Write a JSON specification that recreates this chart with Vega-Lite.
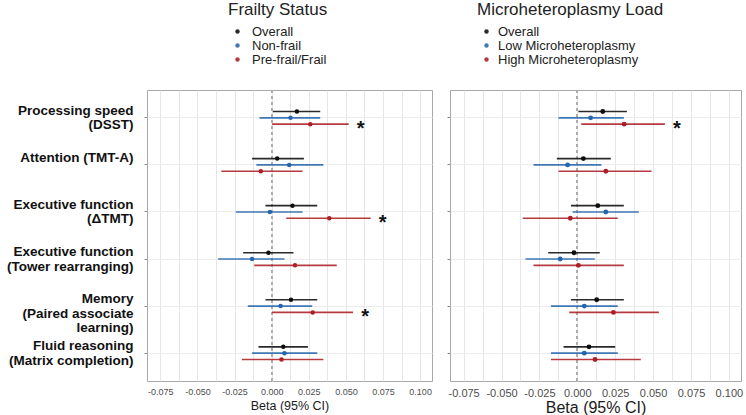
{
  "$schema": "https://vega.github.io/schema/vega-lite/v6.json",
  "padding": {"left": 5, "top": 1, "right": 0, "bottom": 0},
  "config": {
    "font": "Liberation Sans",
    "view": {"stroke": "#a8a8a8", "strokeWidth": 1}
  },
  "datasets": {
    "frailty": [
      {"outcome": "Processing speed|(DSST)", "group": "Overall", "beta": 0.017, "lo": 0.0008, "hi": 0.0327, "sig": false},
      {"outcome": "Processing speed|(DSST)", "group": "Non-frail", "beta": 0.0127, "lo": -0.0082, "hi": 0.0327, "sig": false},
      {"outcome": "Processing speed|(DSST)", "group": "Pre-frail/Frail", "beta": 0.026, "lo": 0.0003, "hi": 0.0519, "sig": true},
      {"outcome": "Attention (TMT-A)", "group": "Overall", "beta": 0.0037, "lo": -0.0132, "hi": 0.0217, "sig": false},
      {"outcome": "Attention (TMT-A)", "group": "Non-frail", "beta": 0.0118, "lo": -0.0103, "hi": 0.0348, "sig": false},
      {"outcome": "Attention (TMT-A)", "group": "Pre-frail/Frail", "beta": -0.0073, "lo": -0.0339, "hi": 0.0208, "sig": false},
      {"outcome": "Executive function|(ΔTMT)", "group": "Overall", "beta": 0.014, "lo": -0.0042, "hi": 0.0307, "sig": false},
      {"outcome": "Executive function|(ΔTMT)", "group": "Non-frail", "beta": -0.0012, "lo": -0.0242, "hi": 0.0208, "sig": false},
      {"outcome": "Executive function|(ΔTMT)", "group": "Pre-frail/Frail", "beta": 0.0388, "lo": 0.0098, "hi": 0.0667, "sig": true},
      {"outcome": "Executive function|(Tower rearranging)", "group": "Overall", "beta": -0.0022, "lo": -0.0192, "hi": 0.0147, "sig": false},
      {"outcome": "Executive function|(Tower rearranging)", "group": "Non-frail", "beta": -0.0132, "lo": -0.0361, "hi": 0.0086, "sig": false},
      {"outcome": "Executive function|(Tower rearranging)", "group": "Pre-frail/Frail", "beta": 0.0157, "lo": -0.0118, "hi": 0.0438, "sig": false},
      {"outcome": "Memory|(Paired associate|learning)", "group": "Overall", "beta": 0.013, "lo": -0.0042, "hi": 0.0307, "sig": false},
      {"outcome": "Memory|(Paired associate|learning)", "group": "Non-frail", "beta": 0.006, "lo": -0.0161, "hi": 0.0273, "sig": false},
      {"outcome": "Memory|(Paired associate|learning)", "group": "Pre-frail/Frail", "beta": 0.0276, "lo": 0.0003, "hi": 0.0548, "sig": true},
      {"outcome": "Fluid reasoning|(Matrix completion)", "group": "Overall", "beta": 0.0078, "lo": -0.0089, "hi": 0.0244, "sig": false},
      {"outcome": "Fluid reasoning|(Matrix completion)", "group": "Non-frail", "beta": 0.0086, "lo": -0.0132, "hi": 0.0307, "sig": false},
      {"outcome": "Fluid reasoning|(Matrix completion)", "group": "Pre-frail/Frail", "beta": 0.0066, "lo": -0.0201, "hi": 0.0348, "sig": false}
    ],
    "mh": [
      {"outcome": "Processing speed|(DSST)", "group": "Overall", "beta": 0.0168, "lo": 0.0007, "hi": 0.0327, "sig": false},
      {"outcome": "Processing speed|(DSST)", "group": "Low Microheteroplasmy", "beta": 0.0088, "lo": -0.0124, "hi": 0.0307, "sig": false},
      {"outcome": "Processing speed|(DSST)", "group": "High Microheteroplasmy", "beta": 0.0309, "lo": 0.0026, "hi": 0.0578, "sig": true},
      {"outcome": "Attention (TMT-A)", "group": "Overall", "beta": 0.004, "lo": -0.0135, "hi": 0.0221, "sig": false},
      {"outcome": "Attention (TMT-A)", "group": "Low Microheteroplasmy", "beta": -0.0064, "lo": -0.0289, "hi": 0.0159, "sig": false},
      {"outcome": "Attention (TMT-A)", "group": "High Microheteroplasmy", "beta": 0.0188, "lo": -0.0124, "hi": 0.049, "sig": false},
      {"outcome": "Executive function|(ΔTMT)", "group": "Overall", "beta": 0.0135, "lo": -0.0042, "hi": 0.0307, "sig": false},
      {"outcome": "Executive function|(ΔTMT)", "group": "Low Microheteroplasmy", "beta": 0.0188, "lo": -0.0031, "hi": 0.0406, "sig": false},
      {"outcome": "Executive function|(ΔTMT)", "group": "High Microheteroplasmy", "beta": -0.0046, "lo": -0.036, "hi": 0.0267, "sig": false},
      {"outcome": "Executive function|(Tower rearranging)", "group": "Overall", "beta": -0.0022, "lo": -0.0192, "hi": 0.0148, "sig": false},
      {"outcome": "Executive function|(Tower rearranging)", "group": "Low Microheteroplasmy", "beta": -0.0113, "lo": -0.0342, "hi": 0.0115, "sig": false},
      {"outcome": "Executive function|(Tower rearranging)", "group": "High Microheteroplasmy", "beta": 0.0007, "lo": -0.0289, "hi": 0.0307, "sig": false},
      {"outcome": "Memory|(Paired associate|learning)", "group": "Overall", "beta": 0.0128, "lo": -0.0042, "hi": 0.0307, "sig": false},
      {"outcome": "Memory|(Paired associate|learning)", "group": "Low Microheteroplasmy", "beta": 0.0046, "lo": -0.0174, "hi": 0.0267, "sig": false},
      {"outcome": "Memory|(Paired associate|learning)", "group": "High Microheteroplasmy", "beta": 0.0238, "lo": -0.0053, "hi": 0.0538, "sig": false},
      {"outcome": "Fluid reasoning|(Matrix completion)", "group": "Overall", "beta": 0.0077, "lo": -0.0091, "hi": 0.025, "sig": false},
      {"outcome": "Fluid reasoning|(Matrix completion)", "group": "Low Microheteroplasmy", "beta": 0.0046, "lo": -0.0174, "hi": 0.0267, "sig": false},
      {"outcome": "Fluid reasoning|(Matrix completion)", "group": "High Microheteroplasmy", "beta": 0.0117, "lo": -0.0174, "hi": 0.0419, "sig": false}
    ]
  },
  "spacing": 13,
  "resolve": {"scale": {"color": "independent", "yOffset": "independent", "x": "independent", "y": "independent"}, "legend": {"color": "independent"}},
  "hconcat": [
    {
      "width": 285,
      "height": 291,
      "data": {"name": "frailty"},
      "encoding": {
        "y": {
          "field": "outcome", "type": "nominal",
          "scale": {"domain": ["Processing speed|(DSST)", "Attention (TMT-A)", "Executive function|(ΔTMT)", "Executive function|(Tower rearranging)", "Memory|(Paired associate|learning)", "Fluid reasoning|(Matrix completion)"], "paddingInner": 0.597, "paddingOuter": 0.39},
          "axis": {"title": null, "labelExpr": "split(datum.label, '|')", "labelFontSize": 13.5, "labelFontWeight": "bold", "labelColor": "#111111", "labelLineHeight": 14.5, "labelPadding": 11, "labelAlign": "right", "labelBaseline": "bottom", "tickSize": 3, "tickColor": "#8c8c8c", "domain": false, "grid": true, "gridColor": "#ececec", "bandPosition": 0.5, "labelLimit": 300}
        },
        "yOffset": {"field": "group", "type": "nominal", "scale": {"domain": ["Overall", "Non-frail", "Pre-frail/Frail"], "paddingInner": 0, "paddingOuter": 0}},
        "x": {
          "field": "beta", "type": "quantitative",
          "scale": {"domain": [-0.084, 0.108], "nice": false, "zero": false},
          "axis": {"title": "Beta (95% CI)", "values": [-0.075, -0.0625, -0.05, -0.0375, -0.025, -0.0125, 0, 0.0125, 0.025, 0.0375, 0.05, 0.0625, 0.075, 0.0875, 0.1], "labelExpr": "abs(round(datum.value*1000)) % 25 == 0 ? replace(format(datum.value, '.3f'), '−', '-') : ''", "labelFontSize": 9, "labelColor": "#4d4d4d", "titleFontSize": 12.5, "titleFontWeight": "normal", "titleColor": "#1a1a1a", "ticks": false, "tickSize": 0, "domain": false, "grid": true, "gridColor": "#e6e6e6", "labelPadding": 6, "titlePadding": 3.5, "labelFlush": false, "labelOverlap": false}
        }
      },
      "layer": [
        {"mark": {"type": "rule", "color": "#ababab", "strokeDash": [3, 3], "strokeWidth": 0.8}, "encoding": {"x": {"datum": 0}, "y": null, "yOffset": null}},
        {
          "mark": {"type": "rule", "strokeWidth": 1.6, "opacity": 0.88},
          "encoding": {
            "x": {"field": "lo", "type": "quantitative"},
            "x2": {"field": "hi"},
            "color": {"field": "group", "type": "nominal"}
          }
        },
        {
          "mark": {"type": "circle", "size": 20, "opacity": 1},
          "encoding": {
            "color": {"field": "group", "type": "nominal", "scale": {"domain": ["Overall", "Non-frail", "Pre-frail/Frail"], "range": ["#0d0d0d", "#2565ae", "#ad1f26"]},
              "legend": {"title": "Frailty Status", "orient": "none", "legendX": 81, "legendY": -88, "titleFontSize": 17, "titleFontWeight": "normal", "titleColor": "#222222", "titleLimit": 400, "labelFontSize": 13, "labelColor": "#222222", "symbolType": "circle", "symbolSize": 20, "symbolStrokeWidth": 0, "symbolOffset": 3, "labelOffset": 8, "rowPadding": 0, "titlePadding": 6}}
          }
        },
        {
          "transform": [{"filter": "datum.sig"}],
          "mark": {"type": "text", "text": "*", "fontSize": 20, "fontWeight": "bold", "dx": 12, "dy": 5, "align": "center", "baseline": "middle", "color": "#111111"},
          "encoding": {"x": {"field": "hi", "type": "quantitative"}}
        }
      ]
    },
    {
      "width": 291,
      "height": 291,
      "data": {"name": "mh"},
      "encoding": {
        "y": {
          "field": "outcome", "type": "nominal",
          "scale": {"domain": ["Processing speed|(DSST)", "Attention (TMT-A)", "Executive function|(ΔTMT)", "Executive function|(Tower rearranging)", "Memory|(Paired associate|learning)", "Fluid reasoning|(Matrix completion)"], "paddingInner": 0.597, "paddingOuter": 0.39},
          "axis": {"title": null, "labels": false, "tickSize": 3, "tickColor": "#8c8c8c", "domain": false, "grid": true, "gridColor": "#ececec", "bandPosition": 0.5}
        },
        "yOffset": {"field": "group", "type": "nominal", "scale": {"domain": ["Overall", "Low Microheteroplasmy", "High Microheteroplasmy"], "paddingInner": 0, "paddingOuter": 0}},
        "x": {
          "field": "beta", "type": "quantitative",
          "scale": {"domain": [-0.084, 0.108], "nice": false, "zero": false},
          "axis": {"title": "Beta (95% CI)", "values": [-0.075, -0.0625, -0.05, -0.0375, -0.025, -0.0125, 0, 0.0125, 0.025, 0.0375, 0.05, 0.0625, 0.075, 0.0875, 0.1], "labelExpr": "abs(round(datum.value*1000)) % 25 == 0 ? replace(format(datum.value, '.3f'), '−', '-') : ''", "labelFontSize": 11, "labelColor": "#4d4d4d", "titleFontSize": 16, "titleFontWeight": "normal", "titleColor": "#1a1a1a", "ticks": false, "tickSize": 0, "domain": false, "grid": true, "gridColor": "#e6e6e6", "labelPadding": 6, "titlePadding": 1, "labelFlush": false, "labelOverlap": false}
        }
      },
      "layer": [
        {"mark": {"type": "rule", "color": "#ababab", "strokeDash": [3, 3], "strokeWidth": 0.8}, "encoding": {"x": {"datum": 0}, "y": null, "yOffset": null}},
        {
          "mark": {"type": "rule", "strokeWidth": 1.6, "opacity": 0.88},
          "encoding": {
            "x": {"field": "lo", "type": "quantitative"},
            "x2": {"field": "hi"},
            "color": {"field": "group", "type": "nominal"}
          }
        },
        {
          "mark": {"type": "circle", "size": 24, "opacity": 1},
          "encoding": {
            "color": {"field": "group", "type": "nominal", "scale": {"domain": ["Overall", "Low Microheteroplasmy", "High Microheteroplasmy"], "range": ["#0d0d0d", "#2565ae", "#ad1f26"]},
              "legend": {"title": "Microheteroplasmy Load", "orient": "none", "legendX": 27, "legendY": -88, "titleFontSize": 17, "titleFontWeight": "normal", "titleColor": "#222222", "titleLimit": 400, "labelFontSize": 13, "labelColor": "#222222", "symbolType": "circle", "symbolSize": 20, "symbolStrokeWidth": 0, "symbolOffset": 3, "labelOffset": 5, "rowPadding": 0, "titlePadding": 6}}
          }
        },
        {
          "transform": [{"filter": "datum.sig"}],
          "mark": {"type": "text", "text": "*", "fontSize": 20, "fontWeight": "bold", "dx": 12, "dy": 5, "align": "center", "baseline": "middle", "color": "#111111"},
          "encoding": {"x": {"field": "hi", "type": "quantitative"}}
        }
      ]
    }
  ]
}
